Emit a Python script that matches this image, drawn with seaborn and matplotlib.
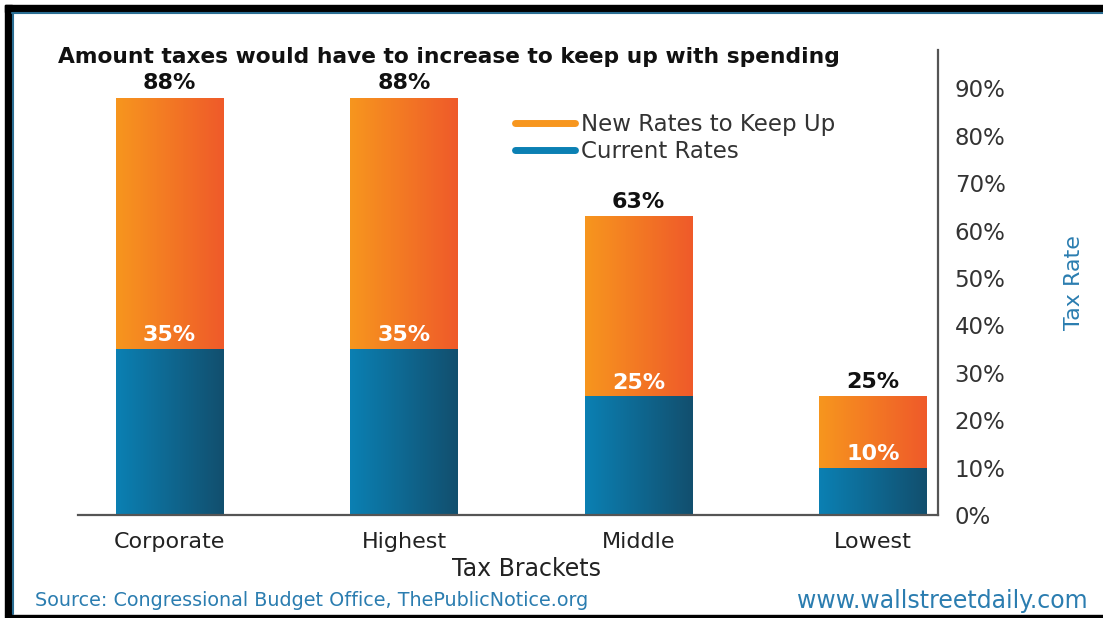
import numpy as np
import pandas as pd
import matplotlib
matplotlib.use("Agg")
import matplotlib.pyplot as plt
from matplotlib.lines import Line2D
from matplotlib.patches import Rectangle
from matplotlib.colors import LinearSegmentedColormap
import seaborn as sns

# ---- data ----
categories = ["Corporate", "Highest", "Middle", "Lowest"]
new_rates = [88, 88, 63, 25]
current_rates = [35, 35, 25, 10]
ytick_values = [0, 10, 20, 30, 40, 50, 60, 70, 80, 90]
title_text = "Amount taxes would have to increase to keep up with spending"
legend_labels = ["New Rates to Keep Up", "Current Rates"]
source_text = "Source: Congressional Budget Office, ThePublicNotice.org"
site_text = "www.wallstreetdaily.com"

ORANGE_L, ORANGE_R = "#F7961E", "#EF5A2A"
BLUE_L, BLUE_R = "#0B80B3", "#124F6E"
TEXT_BLUE = "#2B7DB0"
GRAY = "#333333"

sns.set_theme(style="white")
plt.rcParams["font.family"] = ["DejaVu Sans"]

W, H = 1103, 618
fig = plt.figure(figsize=(W / 100, H / 100), dpi=100)

def fx(x):
    return x / W

def fy(y):
    return 1 - y / H

ax = fig.add_axes([fx(78), fy(515), fx(938) - fx(78), fy(50) - fy(515)])

df = pd.DataFrame({"bracket": categories, "new": new_rates, "current": current_rates})
sns.barplot(data=df, x="bracket", y="new", color=ORANGE_L, width=0.46, ax=ax,
            saturation=1, edgecolor="none")
sns.barplot(data=df, x="bracket", y="current", color=BLUE_L, width=0.46, ax=ax,
            saturation=1, edgecolor="none")

# gradient fill for bars
cmap_o = LinearSegmentedColormap.from_list("o", [ORANGE_L, ORANGE_R])
cmap_b = LinearSegmentedColormap.from_list("b", [BLUE_L, BLUE_R])
grad = np.linspace(0, 1, 256).reshape(1, -1)
n = len(categories)
for i, p in enumerate(list(ax.patches)):
    cmap = cmap_o if i < n else cmap_b
    x0, y0 = p.get_x(), p.get_y()
    w, h = p.get_width(), p.get_height()
    im = ax.imshow(grad, cmap=cmap, aspect="auto",
                   extent=[x0, x0 + w, y0, y0 + h],
                   zorder=p.get_zorder() + 0.1 + (1 if i >= n else 0))
    im.set_clip_path(p)
ax.set_xlim(-0.39, 3.277)
ax.set_ylim(0, 98.1)

# labels
for i, (tot, cur) in enumerate(zip(new_rates, current_rates)):
    ax.text(i, tot + 1.0, f"{tot}%", ha="center", va="bottom", fontsize=16,
            fontweight="bold", color="#111111", zorder=10)
    ax.text(i, cur + 2.9, f"{cur}%", ha="center", va="center", fontsize=16,
            fontweight="bold", color="white", zorder=10)

# axes styling
for s in ["left", "top"]:
    ax.spines[s].set_visible(False)
for s in ["right", "bottom"]:
    ax.spines[s].set_color("#555555")
    ax.spines[s].set_linewidth(1.6)
ax.yaxis.tick_right()
ax.yaxis.set_label_position("right")
ax.set_yticks(ytick_values)
ax.set_yticklabels([f"{v}%" for v in ytick_values])
ax.tick_params(axis="y", length=0, pad=12, labelsize=16.5, labelcolor=GRAY)
ax.tick_params(axis="x", length=0, pad=12, labelsize=16, labelcolor="#222222")
ax.set_xlabel("")
ax.set_ylabel("Tax Rate", fontsize=16, color=TEXT_BLUE, labelpad=42)
ax.grid(False)

fig.text(fx(527), fy(569), "Tax Brackets", ha="center", va="center",
         fontsize=17, color="#222222")

# title
fig.text(fx(58), fy(57), title_text, ha="left", va="center", fontsize=15.7,
         fontweight="bold", color="#111111")

# legend
handles = [Line2D([0], [0], color=ORANGE_L, lw=5),
           Line2D([0], [0], color=BLUE_L, lw=5)]
fig.legend(handles, legend_labels, loc="center left",
           bbox_to_anchor=(fx(515), fy(138)), frameon=False, fontsize=16.5,
           handlelength=2.6, handletextpad=0.3, labelspacing=0.2,
           borderpad=0, borderaxespad=0, labelcolor="#333333")

# footer
fig.text(fx(35), fy(601), source_text, ha="left", va="center", fontsize=13.8,
         color=TEXT_BLUE)
fig.text(fx(1088), fy(601), site_text, ha="right", va="center", fontsize=17,
         color=TEXT_BLUE)

# frame
fig.add_artist(Rectangle((fx(5), fy(12)), 1, fy(5) - fy(12), transform=fig.transFigure,
                         color="black", zorder=20))
fig.add_artist(Rectangle((fx(5), fy(615)), fx(12) - fx(5), fy(5) - fy(615),
                         transform=fig.transFigure, color="black", zorder=20))
fig.add_artist(Rectangle((fx(5), 0), 1, fy(615), transform=fig.transFigure,
                         color="black", zorder=20))
fig.add_artist(Line2D([fx(12), 1], [fy(13), fy(13)], transform=fig.transFigure,
                      color="#2B6E93", lw=1.5, zorder=20))
fig.add_artist(Line2D([fx(13), fx(13)], [fy(13), fy(614)], transform=fig.transFigure,
                      color="#2B6E93", lw=1.5, zorder=20))

fig.savefig("out.png", dpi=100, facecolor="white")
